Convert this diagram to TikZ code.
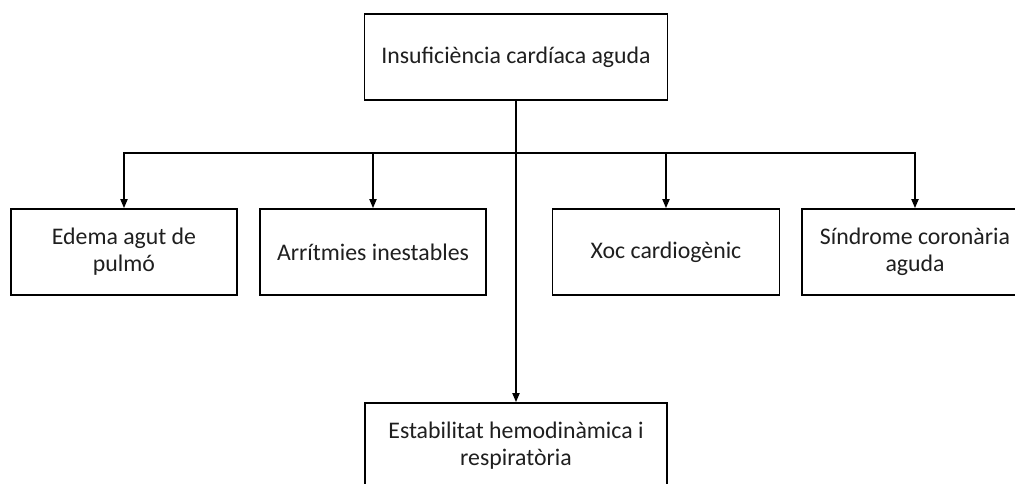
\documentclass[tikz,border=0pt]{standalone}
\usepackage{fontspec}
\setmainfont{Carlito}
\usetikzlibrary{arrows.meta}
\begin{document}
\begin{tikzpicture}[x=1pt,y=-1pt,
  box/.style={draw=black,line width=1.7pt,rectangle,minimum height=86pt,align=center,
    font=\fontsize{23.8}{27}\selectfont,inner sep=0pt,text=black!88},
  conn/.style={line width=1.8pt,draw=black},
  arr/.style={conn,-{Triangle[length=9pt,width=7pt]}}]
\useasboundingbox (0,0) rectangle (1015,483);
\clip (0,0) rectangle (1015,483);
\fill[white] (0,0) rectangle (1015,483);
\node[box,minimum width=303pt] (top) at (516,57) {Insuficiència cardíaca aguda};
\node[box,minimum width=226pt] (b1) at (124,252) {Edema agut de\\pulmó};
\node[box,minimum width=226pt] (b2) at (373,252) {Arrítmies inestables};
\node[box,minimum width=227pt] (b3) at (666,252) {Xoc cardiogènic};
\node[box,minimum width=226pt] (b4) at (915,252) {Síndrome coronària\\aguda};
\node[box,minimum width=302pt] (bot) at (516,446) {Estabilitat hemodinàmica i\\respiratòria};
\coordinate (hb) at (516,153);
\draw[arr] (top.south) -- (bot.north);
\draw[arr] (hb) -| (b1.north);
\draw[arr] (hb) -| (b4.north);
\draw[arr] (hb) -| (b2.north);
\draw[arr] (hb) -| (b3.north);
\end{tikzpicture}
\end{document}
